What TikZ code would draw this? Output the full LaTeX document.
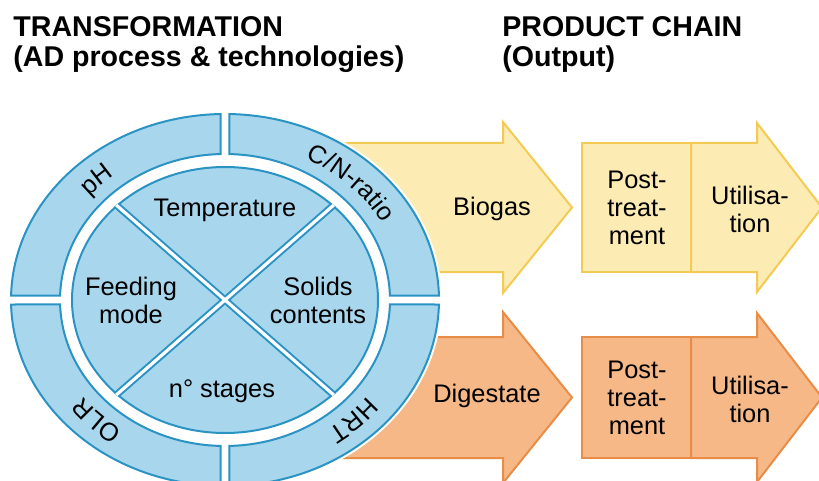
\documentclass[tikz,border=0pt]{standalone}
\usepackage{fontspec}
\setmainfont{Liberation Sans}
\usetikzlibrary{math}
\usetikzlibrary{decorations.text}
\definecolor{myblue}{RGB}{42,147,196}
\definecolor{mylightblue}{RGB}{168,215,237}
\definecolor{myyellow}{RGB}{253,235,180}
\definecolor{mygold}{RGB}{243,203,84}
\definecolor{myorange}{RGB}{245,184,134}
\definecolor{mydarkorange}{RGB}{231,141,72}
\newcommand{\ringfont}{\fontsize{12.7}{14}\selectfont}

\begin{document}
\begin{tikzpicture}[x=0.5pt,y=0.5pt,
  ringpart/.style={fill=mylightblue,draw=myblue,line width=1pt},
  biogas/.style={fill=myyellow,draw=mygold,line width=1pt},
  digestate/.style={fill=myorange,draw=mydarkorange,line width=1pt},
  heading/.style={font=\fontsize{14.3}{15}\selectfont\bfseries,anchor=base west,inner sep=0pt},
  inlabel/.style={font=\ringfont,align=center,inner sep=0pt},
  ringtext/.style={decorate,decoration={text along path,text align=center,text={|\ringfont|#1}}}
]
\tikzmath{
\cx=225; \cy=-300;
\Ro=214; \ro=186;
\Ri=165; \ri=146;
\Rd=153; \rd=133;
\Rt=180; \rt=158;
\gap=4.5;
\ta=asin(\gap/\ro); \tb=acos(\gap/\Ro);
\tc=acos(\gap/\Ri); \td=asin(\gap/\ri);
}
\useasboundingbox (0,0) rectangle (819,-481);

\node[heading] (trans) at (13,-37) {TRANSFORMATION};
\node[heading] (transsub) at (13,-67) {(AD process \& technologies)};
\node[heading] (prod) at (502,-37) {PRODUCT CHAIN};
\node[heading] (prodsub) at (502,-67) {(Output)};

% biogas line
\draw[biogas] (300,-143) -- (503,-143) -- (503,-122) -- (572,-207.5) -- (503,-293) -- (503,-272) -- (300,-272) -- cycle;
\draw[biogas] (582,-143) rectangle (691,-272);
\draw[biogas] (691,-143) -- (757,-143) -- (757,-123) -- (822,-207.5) -- (757,-292) -- (757,-272) -- (691,-272) -- cycle;

% digestate line
\draw[digestate] (300,-337) -- (503,-337) -- (503,-312) -- (572,-397.5) -- (503,-483) -- (503,-458) -- (300,-458) -- cycle;
\draw[digestate] (582,-337) rectangle (691,-458);
\draw[digestate] (691,-337) -- (757,-337) -- (757,-313) -- (822,-397.5) -- (757,-482) -- (757,-458) -- (691,-458) -- cycle;

\node[inlabel,anchor=base] (gas) at (492,-215) {Biogas};
\node[inlabel,anchor=base] (dig) at (487,-402) {Digestate};
\node[inlabel] (post1) at (637,-208) {Post-\\treat-\\ment};
\node[inlabel] (util1) at (750,-209) {Utilisa-\\tion};
\node[inlabel] (post2) at (637,-398) {Post-\\treat-\\ment};
\node[inlabel] (util2) at (750,-399) {Utilisa-\\tion};

% the reactor wheel
\fill[white] (\cx,\cy) ellipse [x radius=\Ro+3, y radius=\ro+3];
\foreach \sx/\sy in {1/1,-1/1,-1/-1,1/-1}{
  \begin{scope}[shift={(\cx,\cy)},xscale=\sx,yscale=\sy]
    \draw[ringpart] (\ta:{\Ro} and {\ro}) arc[start angle=\ta,end angle=\tb,x radius=\Ro,y radius=\ro]
      -- (\tc:{\Ri} and {\ri}) arc[start angle=\tc,end angle=\td,x radius=\Ri,y radius=\ri] -- cycle;
  \end{scope}
}
\draw[ringpart] (\cx,\cy) ellipse [x radius=\Rd, y radius=\rd];
\begin{scope}[shift={(\cx,\cy)}]
  \clip (0,0) ellipse [x radius=\Rd+1, y radius=\rd+1];
  \coordinate (ne) at (45:{\Rd+5} and {\rd+5});
  \coordinate (nw) at (135:{\Rd+5} and {\rd+5});
  \coordinate (sw) at (225:{\Rd+5} and {\rd+5});
  \coordinate (se) at (315:{\Rd+5} and {\rd+5});
  \draw[myblue,line width=3.6pt] (ne) -- (sw) (nw) -- (se);
  \draw[white,line width=1.6pt] (ne) -- (sw) (nw) -- (se);
\end{scope}

\node[inlabel,anchor=base] (temp) at (225,-216) {Temperature};
\node[inlabel] (feed) at (131,-300) {Feeding\\mode};
\node[inlabel] (solids) at (318,-300) {Solids\\contents};
\node[inlabel,anchor=base] (stages) at (222,-397) {n° stages};

\path[ringtext={pH}] (\cx,\cy) ++(175:{\Rt} and {\rt}) arc[start angle=175,end angle=95,x radius=\Rt,y radius=\rt];
\path[ringtext={C/N-ratio}] (\cx,\cy) ++(85:{\Rt} and {\rt}) arc[start angle=85,end angle=5,x radius=\Rt,y radius=\rt];
\path[ringtext={HRT}] (\cx,\cy) ++(-5:{\Rt} and {\rt}) arc[start angle=-5,end angle=-85,x radius=\Rt,y radius=\rt];
\path[ringtext={OLR}] (\cx,\cy) ++(-95:{\Rt} and {\rt}) arc[start angle=-95,end angle=-175,x radius=\Rt,y radius=\rt];
\end{tikzpicture}
\end{document}
